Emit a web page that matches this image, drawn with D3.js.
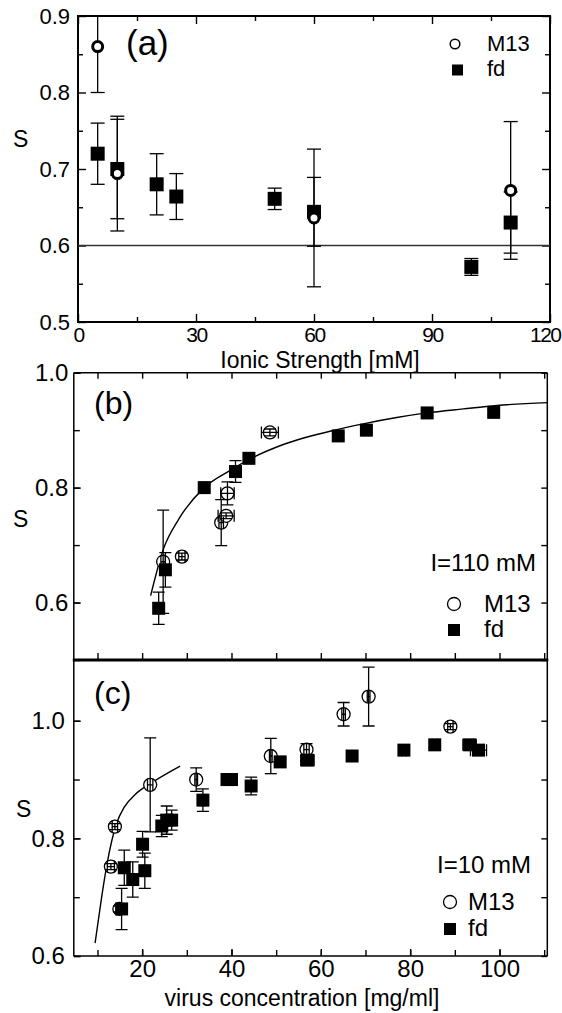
<!DOCTYPE html>
<html><head><meta charset="utf-8">
<script src="https://cdn.jsdelivr.net/npm/d3@7"></script>
<style>body{margin:0;background:#fff}svg{display:block}</style>
</head><body><svg id="c" width="562" height="1013"></svg>
<script>
// ---------- Panel (a) data: S vs ionic strength ----------
const aXTicks = [0, 30, 60, 90, 120];
const aXMinor = [15, 45, 75, 105];
const aYTicks = [0.5, 0.6, 0.7, 0.8, 0.9];
const aYMinor = [0.55, 0.65, 0.75, 0.85];
const aM13X = [5, 10, 60, 110];
const aM13Y = [0.86, 0.694, 0.636, 0.672];
const aM13Err = [0.06, 0.075, 0.09, 0.09];
const aFdX = [5, 10, 20, 25, 50, 60, 100, 110];
const aFdY = [0.72, 0.70, 0.68, 0.664, 0.661, 0.644, 0.572, 0.630];
const aFdErr = [0.04, 0.065, 0.04, 0.03, 0.014, 0.045, 0.011, 0.04];
const aRefLine = 0.6;

// ---------- Panel (b) data: I = 110 mM ----------
const bcXMajor = [20, 40, 60, 80, 100];
const bcXAll = [10, 20, 30, 40, 50, 60, 70, 80, 90, 100, 110];
const bYTicks = [0.6, 0.8, 1.0];
const bYAll = [0.5, 0.6, 0.7, 0.8, 0.9, 1.0];
const bM13X = [24.7, 28.9, 37.7, 38.8, 39.1, 48.6];
const bM13Y = [0.671, 0.68, 0.739, 0.751, 0.79, 0.896];
const bM13YErr = [0.09, 0.006, 0.04, 0.005, 0.02, 0.006];
const bM13XErr = [0.5, 0.7, 0.5, 1.8, 1.5, 1.9];
const bFdX = [23.7, 25.2, 33.9, 40.9, 43.9, 63.9, 70.2, 83.8, 98.7];
const bFdY = [0.59, 0.657, 0.80, 0.828, 0.851, 0.89, 0.90, 0.93, 0.931];
const bFdYErr = [0.028, 0.03, 0.005, 0.019, 0.005, 0.005, 0.005, 0.005, 0.005];
const bFdXErr = [0.3, 0.3, 0.5, 0.4, 0.5, 1.0, 0.5, 1.0, 0.8];
const bFitX = [21.9, 24.7, 28.1, 33.9, 39.7, 44.2, 51.6, 63.6, 69.5, 77.0, 83.7, 91.9, 99.4, 110.7];
const bFitY = [0.612, 0.692, 0.744, 0.800, 0.830, 0.850, 0.875, 0.901, 0.911, 0.922, 0.930, 0.937, 0.943, 0.948];

// ---------- Panel (c) data: I = 10 mM ----------
const cYTicks = [0.6, 0.8, 1.0];
const cYAll = [0.6, 0.7, 0.8, 0.9, 1.0];
const cM13X = [13.0, 13.9, 14.9, 21.8, 32.1, 48.8, 56.8, 65.1, 70.7, 89.0];
const cM13Y = [0.752, 0.82, 0.68, 0.891, 0.90, 0.94, 0.951, 1.011, 1.041, 0.99];
const cM13YErr = [0.005, 0.005, 0.005, 0.08, 0.02, 0.03, 0.01, 0.02, 0.05, 0.005];
const cM13XErr = [0.8, 0.6, 0.6, 0.6, 0.3, 0.3, 0.6, 0.4, 0.3, 0.6];
const cFdX = [15.4, 16.0, 17.9, 20.1, 20.6, 24.4, 25.5, 26.6, 33.6, 39.0, 40.0, 44.4, 50.9, 57.0, 67.0, 78.6, 85.5, 93.3, 95.3];
const cFdY = [0.68, 0.75, 0.73, 0.79, 0.745, 0.821, 0.831, 0.831, 0.865, 0.90, 0.90, 0.889, 0.93, 0.933, 0.94, 0.95, 0.959, 0.959, 0.95];
const cFdYErr = [0.035, 0.03, 0.03, 0.022, 0.03, 0.018, 0.024, 0.017, 0.019, 0.005, 0.005, 0.015, 0.005, 0.005, 0.005, 0.005, 0.005, 0.005, 0.005];
const cFdXErr = [0.4, 0.4, 0.4, 0.3, 0.3, 0.4, 0.4, 0.5, 0.4, 0.4, 0.4, 0.5, 0.5, 1.5, 0.5, 0.5, 0.5, 1.5, 1.8];
const cFitX = [9.46, 10.95, 12.1, 14.3, 16.0, 18.5, 21.8, 28.5];
const cFitY = [0.622, 0.701, 0.755, 0.826, 0.853, 0.875, 0.893, 0.923];

const FONT = '"Liberation Sans", Arial, Helvetica, sans-serif';
const svg = d3.select("#c");
const fmt1 = d3.format(".1f");

function axis(g, gen, tx, ty, fs) {
  const a = g.append("g").attr("transform", `translate(${tx},${ty})`).call(gen);
  a.attr("font-family", FONT).attr("font-size", fs);
  a.select(".domain").remove();
  a.selectAll(".tick line").attr("stroke", "#000").attr("stroke-width", 1.4);
  a.selectAll(".tick text").attr("fill", "#000");
  return a;
}
function txt(g, x, y, s, fs, anchor) {
  return g.append("text").attr("x", x).attr("y", y).attr("font-family", FONT)
    .attr("font-size", fs).attr("text-anchor", anchor || "start").attr("fill", "#000").text(s);
}
function zipPts(X, Y, YE, XE) { return X.map((x, i) => ({x: x, y: Y[i], ye: YE ? YE[i] : 0, xe: XE ? XE[i] : 0})); }
function errBars(g, pts, x, y, cap, sw) {
  pts.forEach(p => {
    const cx = x(p.x), cy = y(p.y);
    if (p.ye > 0) {
      const y1 = y(p.y + p.ye), y2 = y(p.y - p.ye);
      g.append("line").attr("x1", cx).attr("x2", cx).attr("y1", y1).attr("y2", y2).attr("stroke", "#000").attr("stroke-width", sw);
      [y1, y2].forEach(yy => g.append("line").attr("x1", cx - cap).attr("x2", cx + cap).attr("y1", yy).attr("y2", yy).attr("stroke", "#000").attr("stroke-width", sw));
    }
    if (p.xe > 0) {
      const x1 = x(p.x - p.xe), x2 = x(p.x + p.xe);
      g.append("line").attr("x1", x1).attr("x2", x2).attr("y1", cy).attr("y2", cy).attr("stroke", "#000").attr("stroke-width", sw);
      [x1, x2].forEach(xx => g.append("line").attr("x1", xx).attr("x2", xx).attr("y1", cy - cap).attr("y2", cy + cap).attr("stroke", "#000").attr("stroke-width", sw));
    }
  });
}
function squares(g, pts, x, y, s) {
  g.selectAll(null).data(pts).enter().append("rect")
    .attr("x", d => x(d.x) - s / 2).attr("y", d => y(d.y) - s / 2)
    .attr("width", s).attr("height", s).attr("fill", "#000");
}
function circles(g, pts, x, y, r, sw) {
  g.selectAll(null).data(pts).enter().append("circle")
    .attr("cx", d => x(d.x)).attr("cy", d => y(d.y)).attr("r", r)
    .attr("fill", "#fff").attr("stroke", "#000").attr("stroke-width", sw);
}
function clip(id, x, y, w, h) {
  svg.append("clipPath").attr("id", id).append("rect").attr("x", x).attr("y", y).attr("width", w).attr("height", h);
}

// ================= Panel (a) =================
{
  const L = 78, R = 550, T = 16, B = 322;
  const x = d3.scaleLinear().domain([0, 120]).range([L, R]);
  const y = d3.scaleLinear().domain([0.5, 0.9]).range([B, T]);
  const g = svg.append("g");
  clip("clipA", L, T, R - L, B - T);
  axis(g, d3.axisLeft(y).tickValues(aYTicks).tickSize(-8).tickPadding(8).tickFormat(fmt1), L, 0, 22);
  axis(g, d3.axisLeft(y).tickValues(aYMinor).tickSize(-5).tickFormat(""), L, 0, 22);
  axis(g, d3.axisRight(y).tickValues(aYTicks).tickSize(-8).tickFormat(""), R, 0, 22);
  axis(g, d3.axisRight(y).tickValues(aYMinor).tickSize(-5).tickFormat(""), R, 0, 22);
  const xb = axis(g, d3.axisBottom(x).tickValues(aXTicks).tickSize(-8).tickPadding(5).tickFormat(d3.format("d")), 0, B, 21);
  xb.selectAll(".tick text").attr("letter-spacing", -1.5);
  xb.selectAll(".tick text").filter(v => v === 120).attr("text-anchor", "end").attr("x", 10);
  axis(g, d3.axisBottom(x).tickValues(aXMinor).tickSize(-5).tickFormat(""), 0, B, 22);
  axis(g, d3.axisTop(x).tickValues(aXTicks).tickSize(-8).tickFormat(""), 0, T, 22);
  axis(g, d3.axisTop(x).tickValues(aXMinor).tickSize(-5).tickFormat(""), 0, T, 22);
  g.append("rect").attr("x", L).attr("y", T).attr("width", R - L).attr("height", B - T)
    .attr("fill", "none").attr("stroke", "#000").attr("stroke-width", 2);
  g.append("line").attr("x1", L).attr("x2", R).attr("y1", y(aRefLine)).attr("y2", y(aRefLine))
    .attr("stroke", "#333").attr("stroke-width", 1.5);
  const d = g.append("g").attr("clip-path", "url(#clipA)");
  const fd = zipPts(aFdX, aFdY, aFdErr), m13 = zipPts(aM13X, aM13Y, aM13Err);
  errBars(d, fd, x, y, 7, 1.3);
  errBars(d, m13, x, y, 7, 1.3);
  squares(d, fd, x, y, 14);
  circles(d, m13, x, y, 5, 3);
  txt(g, 126, 55, "(a)", 35);
  txt(g, 13, 147, "S", 23);
  txt(g, 320, 368, "Ionic Strength [mM]", 23, "middle");
  g.append("circle").attr("cx", 455).attr("cy", 44).attr("r", 4.8).attr("fill", "#fff").attr("stroke", "#000").attr("stroke-width", 1.5);
  txt(g, 487, 51, "M13", 22);
  g.append("rect").attr("x", 452).attr("y", 64.5).attr("width", 11).attr("height", 11).attr("fill", "#000");
  txt(g, 487, 76, "fd", 22);
}

// ================= Panels (b) & (c) shared x =================
const L2 = 73.8, R2 = 547.3;
const xbc = d3.scaleLinear().domain([4.7, 110.7]).range([L2, R2]);

// ================= Panel (b) =================
{
  const T = 372.7, B = 660;
  const x = xbc;
  const y = d3.scaleLinear().domain([0.5, 1.0]).range([B, T]);
  const g = svg.append("g");
  clip("clipB", L2, T, R2 - L2, B - T);
  axis(g, d3.axisLeft(y).tickValues(bYTicks).tickSize(-7).tickPadding(5.5).tickFormat(fmt1), L2, 0, 24);
  axis(g, d3.axisLeft(y).tickValues(bYAll).tickSize(-6).tickFormat(""), L2, 0, 24);
  axis(g, d3.axisRight(y).tickValues(bYAll).tickSize(-6).tickFormat(""), R2, 0, 24);
  axis(g, d3.axisTop(x).tickValues(bcXAll).tickSize(-6).tickFormat(""), 0, T, 24);
  axis(g, d3.axisBottom(x).tickValues(bcXAll).tickSize(-7).tickFormat(""), 0, B, 24);
  g.append("line").attr("x1", L2).attr("x2", R2).attr("y1", T).attr("y2", T).attr("stroke", "#000").attr("stroke-width", 1.5);
  g.append("line").attr("x1", L2).attr("x2", L2).attr("y1", T).attr("y2", B).attr("stroke", "#000").attr("stroke-width", 1.5);
  g.append("line").attr("x1", R2).attr("x2", R2).attr("y1", T).attr("y2", B).attr("stroke", "#000").attr("stroke-width", 1.5);
  const d = g.append("g").attr("clip-path", "url(#clipB)");
  const fit = bFitX.map((v, i) => [v, bFitY[i]]);
  d.append("path").attr("d", d3.line().x(p => x(p[0])).y(p => y(p[1])).curve(d3.curveMonotoneX)(fit))
    .attr("fill", "none").attr("stroke", "#000").attr("stroke-width", 1.4);
  const m13 = zipPts(bM13X, bM13Y, bM13YErr, bM13XErr), fd = zipPts(bFdX, bFdY, bFdYErr, bFdXErr);
  circles(d, m13, x, y, 6.5, 1.3);
  errBars(d, m13, x, y, 6, 1.3);
  errBars(d, fd, x, y, 6, 1.3);
  squares(d, fd, x, y, 13);
  txt(g, 94, 414, "(b)", 32);
  txt(g, 13, 527, "S", 23);
  txt(g, 536, 571, "I=110 mM", 24, "end");
  g.append("circle").attr("cx", 454).attr("cy", 604).attr("r", 6.5).attr("fill", "#fff").attr("stroke", "#000").attr("stroke-width", 1.3);
  txt(g, 484, 612, "M13", 24);
  g.append("rect").attr("x", 448).attr("y", 624).attr("width", 12).attr("height", 12).attr("fill", "#000");
  txt(g, 484, 637, "fd", 24);
}

// ================= Panel (c) =================
{
  const T = 661.9, B = 956;
  const x = xbc;
  const y = d3.scaleLinear().domain([0.6, 1.1]).range([B, T]);
  const g = svg.append("g");
  clip("clipC", L2, 660, R2 - L2, B - 660);
  axis(g, d3.axisLeft(y).tickValues(cYTicks).tickSize(-7).tickPadding(9).tickFormat(fmt1), L2, 0, 24);
  axis(g, d3.axisLeft(y).tickValues(cYAll).tickSize(-6).tickFormat(""), L2, 0, 24);
  axis(g, d3.axisRight(y).tickValues(cYAll).tickSize(-6).tickFormat(""), R2, 0, 24);
  axis(g, d3.axisBottom(x).tickValues(bcXMajor).tickSize(-7).tickPadding(4).tickFormat(d3.format("d")), 0, B, 24);
  axis(g, d3.axisBottom(x).tickValues(bcXAll).tickSize(-6).tickFormat(""), 0, B, 24);
  g.append("line").attr("x1", L2).attr("x2", R2).attr("y1", B).attr("y2", B).attr("stroke", "#000").attr("stroke-width", 1.5);
  g.append("line").attr("x1", L2).attr("x2", L2).attr("y1", 660).attr("y2", B).attr("stroke", "#000").attr("stroke-width", 1.5);
  g.append("line").attr("x1", R2).attr("x2", R2).attr("y1", 660).attr("y2", B).attr("stroke", "#000").attr("stroke-width", 1.5);
  const d = g.append("g").attr("clip-path", "url(#clipC)");
  const fit = cFitX.map((v, i) => [v, cFitY[i]]);
  d.append("path").attr("d", d3.line().x(p => x(p[0])).y(p => y(p[1])).curve(d3.curveMonotoneX)(fit))
    .attr("fill", "none").attr("stroke", "#000").attr("stroke-width", 1.4);
  const m13 = zipPts(cM13X, cM13Y, cM13YErr, cM13XErr), fd = zipPts(cFdX, cFdY, cFdYErr, cFdXErr);
  circles(d, m13, x, y, 6.5, 1.3);
  errBars(d, m13, x, y, 6, 1.3);
  errBars(d, fd, x, y, 6, 1.3);
  squares(d, fd, x, y, 13);
  txt(g, 94, 704, "(c)", 32);
  txt(g, 16, 817, "S", 23);
  txt(g, 531, 873, "I=10 mM", 24, "end");
  g.append("circle").attr("cx", 450).attr("cy", 902).attr("r", 6.5).attr("fill", "#fff").attr("stroke", "#000").attr("stroke-width", 1.3);
  txt(g, 468, 910, "M13", 24);
  g.append("rect").attr("x", 444).attr("y", 923).attr("width", 12).attr("height", 12).attr("fill", "#000");
  txt(g, 468, 936, "fd", 24);
  txt(g, 302, 1006, "virus concentration [mg/ml]", 23, "middle");
}

// thick divider between (b) and (c)
svg.append("line").attr("x1", L2 - 1).attr("x2", R2 + 1).attr("y1", 660).attr("y2", 660)
  .attr("stroke", "#000").attr("stroke-width", 3);
</script>
</body></html>
